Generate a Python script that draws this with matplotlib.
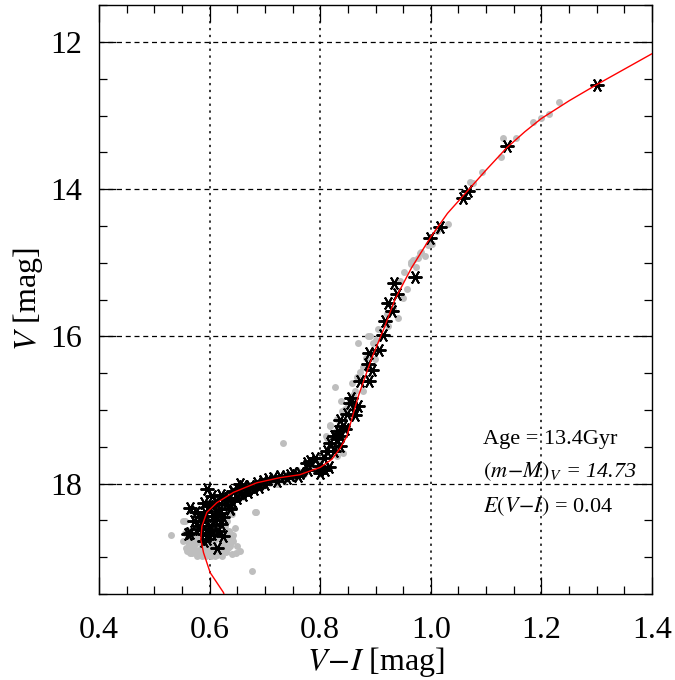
import numpy as np
import matplotlib.pyplot as plt
from matplotlib.ticker import MultipleLocator

plt.rcParams['font.family'] = ['Liberation Serif', 'DejaVu Serif']
plt.rcParams['mathtext.fontset'] = 'stix'

# isochrone (V-I, V)
iso_vi = [0.628, 0.625, 0.601, 0.589, 0.584, 0.586, 0.595, 0.613, 0.643, 0.685, 0.727,
          0.763, 0.800, 0.821, 0.836, 0.848, 0.869, 0.893, 0.917, 0.935, 0.965, 0.999,
          1.030, 1.068, 1.100, 1.137, 1.170, 1.200, 1.250, 1.300, 1.350, 1.400]
iso_v = [19.55, 19.48, 19.21, 18.94, 18.76, 18.58, 18.39, 18.26, 18.12, 17.99, 17.92,
         17.88, 17.78, 17.67, 17.52, 17.36, 16.81, 16.30, 15.86, 15.50, 15.07, 14.66,
         14.33, 14.01, 13.74, 13.44, 13.22, 13.04, 12.80, 12.58, 12.37, 12.16]

# member stars used in the fit (asterisks)
fit_vi = [1.300, 1.137, 1.068, 1.058, 1.017, 0.999,
          0.971, 0.934, 0.938, 0.923, 0.929, 0.917, 0.913,
          0.888, 0.907, 0.886, 0.894, 0.872, 0.889,
          0.856, 0.854, 0.868, 0.849, 0.862, 0.836, 0.842, 0.833, 0.824, 0.836,
          0.845, 0.830, 0.818, 0.812, 0.824, 0.806, 0.836, 0.809,
          0.791, 0.782, 0.776, 0.797, 0.778, 0.763, 0.751, 0.745, 0.727, 0.715,
          0.706, 0.721, 0.697, 0.685, 0.673, 0.661, 0.652, 0.643, 0.655,
          0.640, 0.637, 0.595, 0.565, 0.571, 0.565, 0.661, 0.643, 0.625, 0.613,
          0.589, 0.604, 0.592, 0.607, 0.619, 0.637, 0.601, 0.616, 0.589, 0.625,
          0.580, 0.561, 0.589, 0.613, 0.604,
          0.598, 0.610, 0.585, 0.630, 0.650, 0.670, 0.690, 0.700, 0.740, 0.760,
          0.800, 0.815, 0.600, 0.620,
          0.590, 0.605, 0.615, 0.625, 0.633, 0.575, 0.580, 0.595, 0.620, 0.660,
          0.680]
fit_v = [12.58, 13.41, 14.03, 14.12, 14.51, 14.66,
         15.20, 15.27, 15.43, 15.55, 15.66, 15.79, 15.98,
         16.23, 16.19, 16.38, 16.46, 16.61, 16.61,
         16.84, 16.91, 16.94, 17.06, 17.07, 17.14, 17.22, 17.29, 17.35, 17.36,
         17.26, 17.40, 17.45, 17.56, 17.56, 17.65, 17.49, 17.81,
         17.65, 17.69, 17.72, 17.76, 17.81, 17.85, 17.85, 17.88, 17.90, 17.92,
         17.94, 17.96, 17.96, 17.99, 18.03, 18.06, 18.08, 18.12, 18.01,
         18.24, 18.33, 18.08, 18.33, 18.51, 18.67, 18.03, 18.10, 18.21, 18.26,
         18.26, 18.17, 18.39, 18.44, 18.35, 18.35, 18.58, 18.64, 18.69, 18.71,
         18.58, 18.69, 18.78, 18.87, 18.69,
         18.30, 18.50, 18.45, 18.28, 18.20, 18.12, 18.05, 18.00, 17.93, 17.90,
         17.86, 17.78, 18.62, 18.15,
         18.50, 18.30, 18.40, 18.45, 18.20, 18.38, 18.62, 18.75, 18.55, 18.15,
         18.08]

# all other stars (grey dots)
all_vi = [1.231, 1.214, 1.199, 1.184, 1.154, 1.131, 1.126, 1.092, 1.077, 1.071,
          1.031, 1.011, 1.002, 0.995, 0.983, 0.977, 0.967, 0.964, 0.973,
          0.980, 0.990, 0.965, 0.952, 0.956, 0.950, 0.941, 0.923, 0.890, 0.887,
          0.869, 0.896, 0.899, 0.872, 0.857, 0.877, 0.863, 0.827, 0.837, 0.845,
          0.818, 0.810,
          0.945, 0.932, 0.920, 0.905, 0.900, 0.882, 0.878, 0.866, 0.860, 0.850,
          0.840, 0.830, 0.826,
          0.733, 0.683, 0.817, 0.812, 0.776, 0.758, 0.721, 0.697, 0.830, 0.842,
          0.800, 0.790, 0.770, 0.750, 0.735, 0.710, 0.680, 0.665, 0.650, 0.660,
          0.531, 0.556, 0.631, 0.625, 0.559, 0.568, 0.637, 0.655, 0.676, 0.640,
          0.560, 0.570, 0.575, 0.580, 0.585, 0.590, 0.595, 0.600, 0.605, 0.610,
          0.615, 0.620, 0.625, 0.630, 0.620, 0.630, 0.640, 0.635, 0.628, 0.575,
          0.565, 0.552, 0.558, 0.573, 0.583, 0.598, 0.608, 0.617, 0.645, 0.650,
          0.612, 0.622, 0.640, 0.600, 0.573, 0.582, 0.590,
          0.552, 0.556, 0.559, 0.637, 0.643, 0.628, 0.682, 0.587, 0.593, 0.603,
          0.613, 0.623, 0.633, 0.578, 0.568, 0.588, 0.598, 0.608, 0.618, 0.562,
          0.572, 0.582, 0.592, 0.602, 0.612, 0.622, 0.632, 0.642, 0.648, 0.565,
          0.578, 0.588, 0.606, 0.616, 0.626, 0.636, 0.570, 0.595, 0.610]
all_v = [12.81, 12.98, 13.04, 13.09, 13.31, 13.30, 13.57, 13.77, 13.92, 13.90,
         14.47, 14.57, 14.74, 14.76, 14.85, 14.94, 14.96, 14.99, 15.06,
         14.87, 14.91, 15.02, 15.13, 15.36, 15.48, 15.75, 15.86, 16.00, 16.00,
         16.09, 16.09, 16.31, 16.49, 16.64, 16.74, 16.74, 16.69, 16.88, 16.99,
         17.22, 17.36,
         15.25, 15.62, 15.70, 15.90, 16.05, 16.30, 16.42, 16.55, 16.80, 16.92,
         17.02, 17.12, 17.30,
         17.45, 18.39, 17.20, 17.38, 17.83, 17.81, 18.01, 18.03, 17.62, 17.58,
         17.70, 17.80, 17.87, 17.92, 17.96, 17.99, 18.05, 18.10, 18.15, 18.18,
         18.70, 18.51, 18.51, 18.58, 18.63, 18.94, 18.85, 18.92, 19.19, 18.96,
         18.80, 18.85, 18.90, 18.95, 18.88, 18.92, 18.97, 18.90, 18.95, 18.98,
         18.92, 18.96, 18.90, 18.93, 18.82, 18.78, 18.74, 18.65, 18.68, 18.74,
         18.72, 18.78, 18.88, 18.82, 18.70, 18.82, 18.78, 18.74, 18.60, 18.85,
         18.55, 18.45, 18.42, 18.55, 18.60, 18.52, 18.62,
         18.51, 18.67, 18.92, 18.67, 18.78, 18.58, 18.39, 18.99, 18.99, 18.99,
         18.97, 18.99, 18.88, 18.98, 18.89, 18.86, 18.86, 18.86, 18.86, 18.84,
         18.79, 18.80, 18.80, 18.75, 18.74, 18.72, 18.72, 18.70, 18.95, 18.95,
         18.92, 18.92, 18.92, 18.88, 18.84, 18.82, 18.60, 18.62, 18.65]

fig = plt.figure(figsize=(6.75, 6.8), dpi=100)
ax = fig.add_axes([0.1467, 0.1265, 0.8193, 0.866])

for gx in [0.6, 0.8, 1.0, 1.2]:
    ax.axvline(gx, color='black', lw=1.1, ls=(0, (1.5, 3)), zorder=1)
for gy in [12, 14, 16, 18]:
    ax.axhline(gy, color='black', lw=0.9, ls=(0, (4, 3)), zorder=1)

ax.plot(all_vi, all_v, 'o', color='#bebebe', ms=5.0, mec='none', zorder=2)
ax.plot(fit_vi, fit_v, ls='none', marker=(6, 2, 90), color='black',
        ms=10, mew=1.4, zorder=3)
ax.plot(iso_vi, iso_v, color='red', lw=1.0, zorder=4)

ax.set_xlim(0.4, 1.4)
ax.set_ylim(19.5, 11.5)
ax.xaxis.set_minor_locator(MultipleLocator(0.05))
ax.yaxis.set_minor_locator(MultipleLocator(0.5))
ax.set_xticks([0.4, 0.6, 0.8, 1.0, 1.2, 1.4])
ax.set_xticklabels(['0.4', '0.6', '0.8', '1.0', '1.2', '1.4'])
ax.set_yticks([12, 14, 16, 18])
ax.tick_params(which='both', direction='in', top=True, right=True,
               labelsize=23, width=0.9)
ax.tick_params(which='major', length=12)
ax.tick_params(axis='x', which='major', pad=16)
ax.tick_params(axis='y', which='major', pad=12)
ax.tick_params(which='minor', length=6)
for s in ax.spines.values():
    s.set_linewidth(1.0)

ax.set_xlabel(r'$V\!-\!I$ [mag]', fontsize=23, labelpad=0)
ax.set_ylabel(r'$V$ [mag]', fontsize=23, labelpad=4)

ax.text(0.694, 0.262, 'Age = 13.4Gyr', transform=ax.transAxes, fontsize=16,
        va='center')
ax.text(0.694, 0.208, r'$(m\!-\!M)_V$ = 14.73', transform=ax.transAxes,
        fontsize=16, va='center', style='italic')
ax.text(0.694, 0.149, r'$E(V\!-\!I)$ = 0.04', transform=ax.transAxes,
        fontsize=16, va='center')

fig.savefig('out.png', dpi=100)
